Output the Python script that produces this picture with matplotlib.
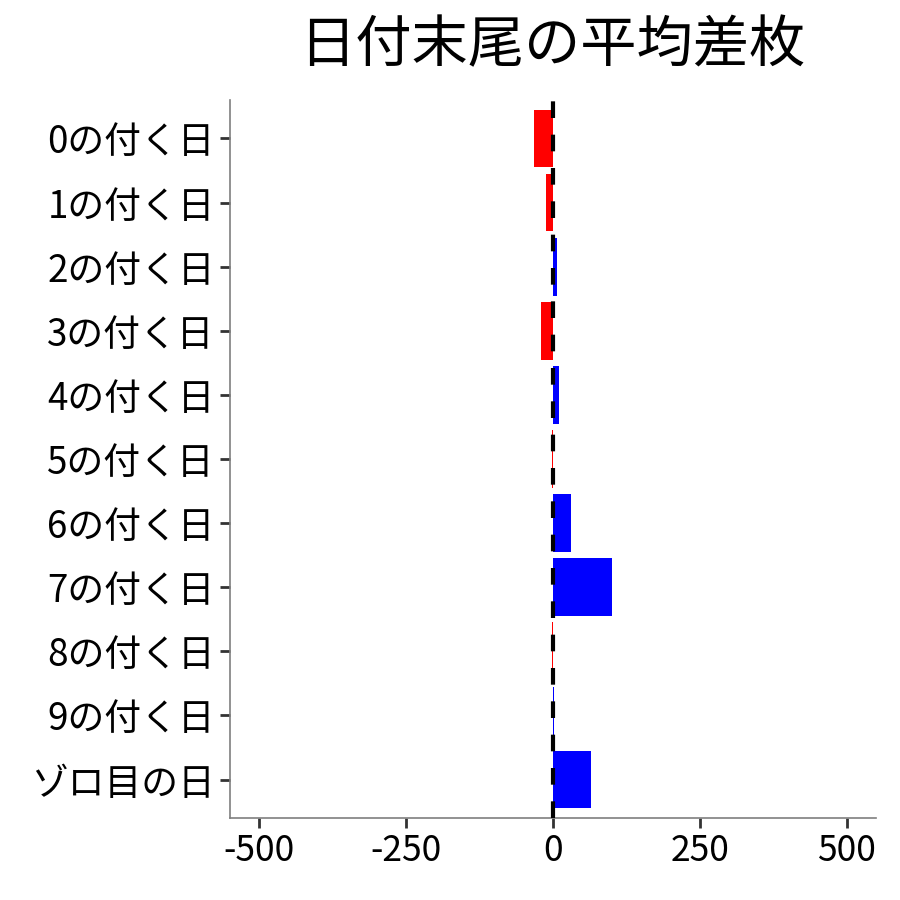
import matplotlib
matplotlib.use("Agg")
import matplotlib.pyplot as plt

plt.rcParams['font.family'] = ['Noto Sans CJK JP', 'DejaVu Sans']

# ─────────────────────────────────────────────
# DATA: average difference by last digit of date
# ─────────────────────────────────────────────
labels = ["0の付く日", "1の付く日", "2の付く日", "3の付く日", "4の付く日",
          "5の付く日", "6の付く日", "7の付く日", "8の付く日", "9の付く日",
          "ゾロ目の日"]
values = [-32, -12, 7, -20, 11, -1, 30, 100, -1, 1.5, 64]
ticks = [-500, -250, 0, 250, 500]

colors = ["#ff0000" if v < 0 else "#0000ff" for v in values]
ypos = list(range(len(labels)))

fig = plt.figure(figsize=(9, 9), dpi=100)
ax = fig.add_axes([0.2556, 0.0911, 0.7177, 0.7978])

ax.barh(ypos, values, height=0.9, color=colors, zorder=2)
ax.axvline(0, color="black", linewidth=3, linestyle=(0, (4, 4)), zorder=3)

ax.set_xlim(-550, 550)
ax.set_ylim(len(labels) - 0.4, -0.6)
ax.set_xticks(ticks)
ax.set_xticklabels([str(t) for t in ticks])
ax.set_yticks(ypos)
ax.set_yticklabels(labels)

for side in ["top", "right"]:
    ax.spines[side].set_visible(False)
for side in ["left", "bottom"]:
    ax.spines[side].set_color("#7f7f7f")
    ax.spines[side].set_linewidth(1.2)

ax.tick_params(axis="both", length=7, width=2, color="#333333",
               labelsize=25.5, labelcolor="black", pad=4)
ax.tick_params(axis="y", labelsize=26.5)

fig.suptitle("日付末尾の平均差枚", x=0.614, y=0.98, fontsize=40.5,
             va="top")

fig.savefig("out.png", dpi=100)
